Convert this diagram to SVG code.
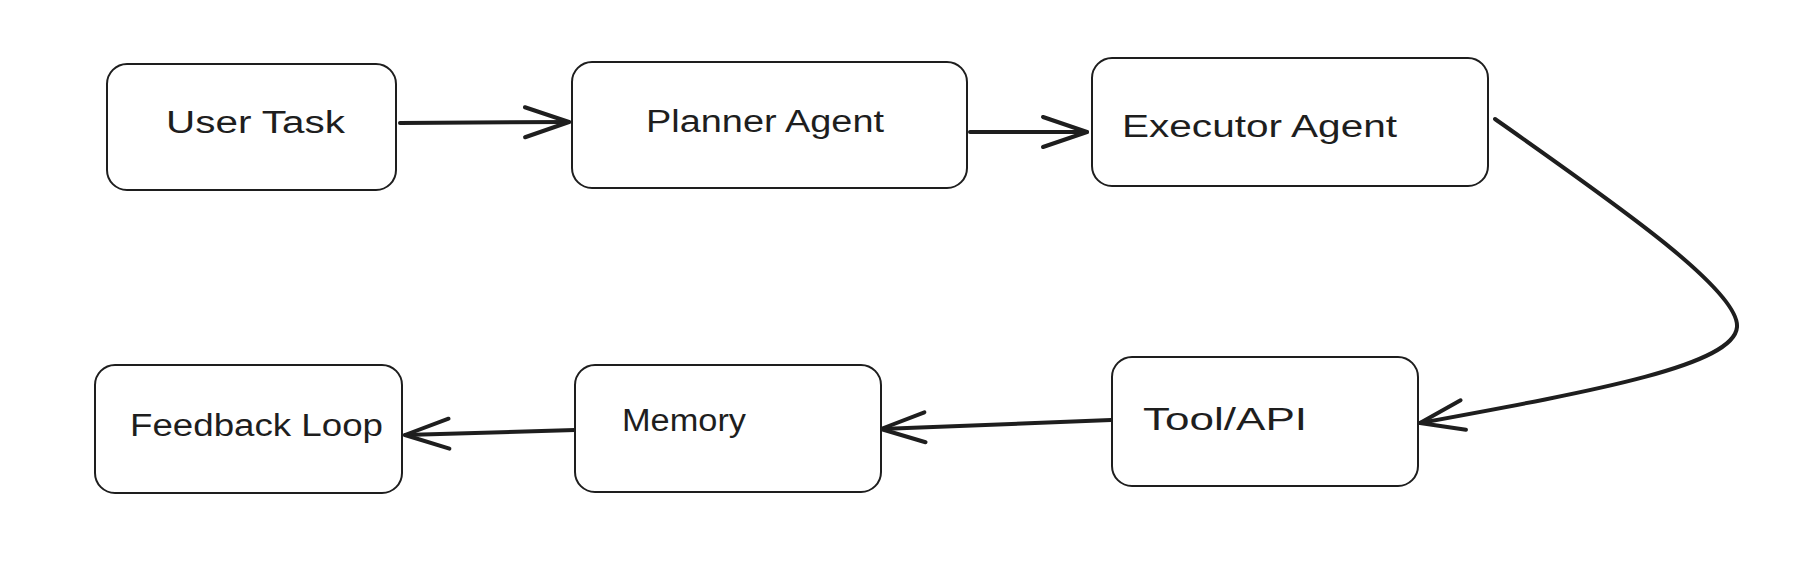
<svg xmlns="http://www.w3.org/2000/svg" width="1804" height="586" viewBox="0 0 1804 586">
  <style>
    .box { fill: #ffffff; stroke: #1e1e1e; stroke-width: 2; }
    .label { font-family: "Liberation Sans", "Noto Sans", sans-serif; font-size: 31px; fill: #1e1e1e; }
    .conn { fill: none; stroke: #1e1e1e; stroke-width: 4; stroke-linecap: round; stroke-linejoin: round; }
  </style>
  <defs>
    <marker id="arrow" markerUnits="userSpaceOnUse" markerWidth="60" markerHeight="40" viewBox="-50 -20 60 40" refX="0" refY="0" orient="auto" overflow="visible">
      <path d="M -44 -15 L 0 0 L -44 15" fill="none" stroke="#1e1e1e" stroke-width="4" stroke-linecap="round" stroke-linejoin="round"/>
    </marker>
  </defs>
  <rect width="1804" height="586" fill="#ffffff"/>

  <g id="connectors">
    <path class="conn" d="M400 123 L569 122" marker-end="url(#arrow)"/>
    <path class="conn" d="M970 132 L1087 132" marker-end="url(#arrow)"/>
    <path class="conn" d="M1495 119 C1610 200, 1740 290, 1737 327 C1734 365, 1600 390, 1420 423" marker-end="url(#arrow)"/>
    <path class="conn" d="M1111 420 L881 429" marker-end="url(#arrow)"/>
    <path class="conn" d="M575 430 L405 435" marker-end="url(#arrow)"/>
  </g>

  <g id="user-task">
    <rect class="box" x="107" y="64" width="289" height="126" rx="20"/>
    <text class="label" x="166" y="133" textLength="179" lengthAdjust="spacingAndGlyphs">User Task</text>
  </g>
  <g id="planner-agent">
    <rect class="box" x="572" y="62" width="395" height="126" rx="20"/>
    <text class="label" x="646" y="132" textLength="238" lengthAdjust="spacingAndGlyphs">Planner Agent</text>
  </g>
  <g id="executor-agent">
    <rect class="box" x="1092" y="58" width="396" height="128" rx="20"/>
    <text class="label" x="1122" y="137" textLength="275" lengthAdjust="spacingAndGlyphs">Executor Agent</text>
  </g>
  <g id="tool-api">
    <rect class="box" x="1112" y="357" width="306" height="129" rx="20"/>
    <text class="label" x="1143" y="430" textLength="164" lengthAdjust="spacingAndGlyphs">Tool/API</text>
  </g>
  <g id="memory">
    <rect class="box" x="575" y="365" width="306" height="127" rx="20"/>
    <text class="label" x="622" y="431" textLength="124" lengthAdjust="spacingAndGlyphs">Memory</text>
  </g>
  <g id="feedback-loop">
    <rect class="box" x="95" y="365" width="307" height="128" rx="20"/>
    <text class="label" x="130" y="436" textLength="253" lengthAdjust="spacingAndGlyphs">Feedback Loop</text>
  </g>
</svg>
